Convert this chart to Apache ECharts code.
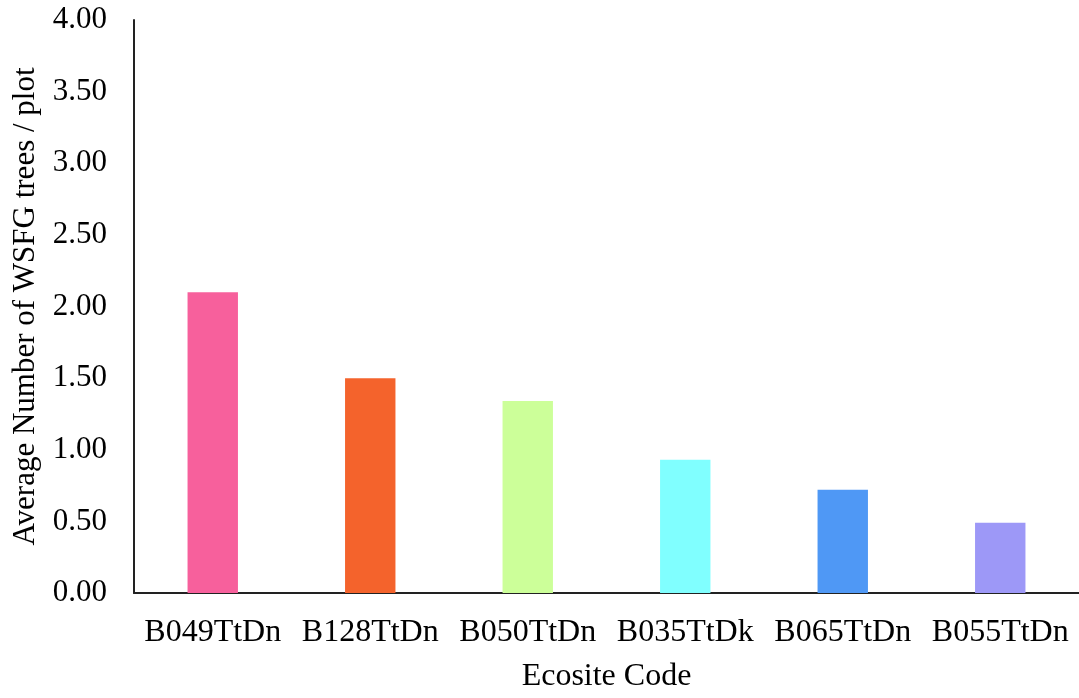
<!DOCTYPE html>
<html>
<head>
<meta charset="utf-8">
<script src="https://cdn.jsdelivr.net/npm/echarts@6/dist/echarts.min.js"></script>
<style>html,body{margin:0;padding:0;background:#fff}#c{width:1079px;height:698px}</style>
</head>
<body>
<div id="c"></div>
<script>
const categories = ['B049TtDn','B128TtDn','B050TtDn','B035TtDk','B065TtDn','B055TtDn'];
const values = [2.10, 1.50, 1.34, 0.93, 0.72, 0.49];
const barColors = ['#F7609C','#F4632C','#CCFF99','#80FFFF','#4F98F5','#9D98F7'];
const yTicks = [0, 0.5, 1, 1.5, 2, 2.5, 3, 3.5, 4];

const font = 'Liberation Serif';
const chart = echarts.init(document.getElementById('c'));
chart.setOption({
  animation: false,
  backgroundColor: '#fff',
  grid: { left: 134, right: -4, top: 20, bottom: 97, containLabel: false },
  xAxis: {
    type: 'category',
    data: categories,
    name: 'Ecosite Code',
    nameLocation: 'middle',
    nameGap: 68,
    nameTextStyle: { fontFamily: font, fontSize: 32, color: '#000' },
    axisLine: { lineStyle: { color: '#222', width: 2 } },
    axisTick: { show: false },
    axisLabel: { fontFamily: font, fontSize: 32, color: '#000', margin: 24, interval: 0 }
  },
  yAxis: {
    type: 'value',
    min: yTicks[0],
    max: yTicks[yTicks.length - 1],
    interval: yTicks[1] - yTicks[0],
    name: 'Average Number of WSFG trees / plot',
    nameLocation: 'middle',
    nameGap: 91,
    nameTextStyle: { fontFamily: font, fontSize: 31, color: '#000' },
    axisLine: { show: true, lineStyle: { color: '#222', width: 2 } },
    axisTick: { show: false },
    splitLine: { show: false },
    axisLabel: { fontFamily: font, fontSize: 31, color: '#000', margin: 27,
      formatter: v => v.toFixed(2) }
  },
  series: [{
    type: 'bar',
    barWidth: '32%',
    data: values.map((v, i) => ({ value: v, itemStyle: { color: barColors[i] } }))
  }]
});
</script>
</body>
</html>
